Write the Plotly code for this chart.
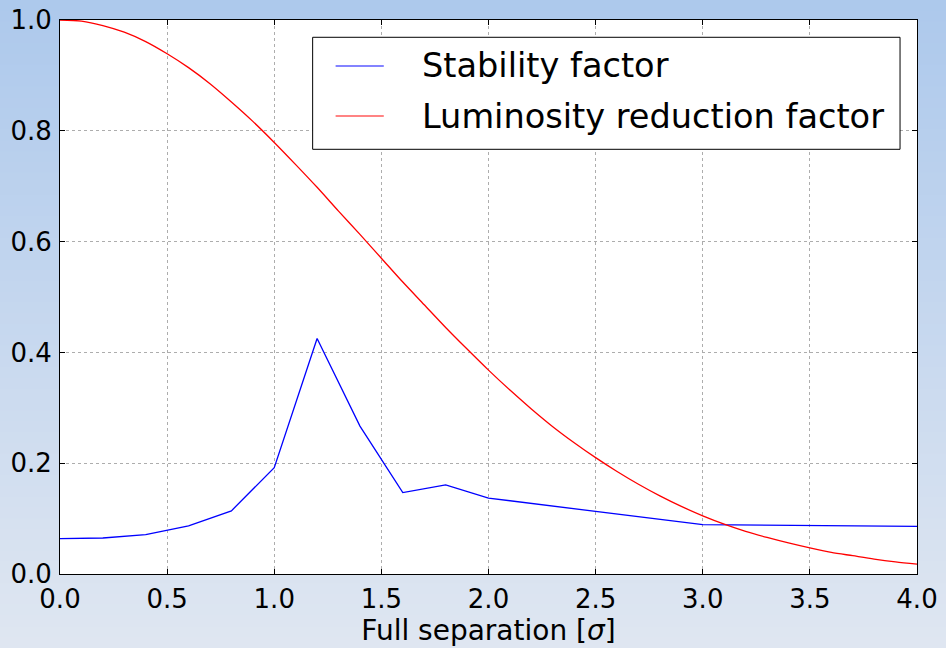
import plotly.graph_objects as go

# Stability factor, sampled at the simulated separations
sep_stab = [0.0, 0.2, 0.4, 0.6, 0.8, 1.0, 1.2, 1.4, 1.6, 1.8, 2.0, 3.0, 4.0]
stability = [0.064, 0.065, 0.071, 0.087, 0.114, 0.192, 0.425, 0.267, 0.147,
             0.161, 0.137, 0.089, 0.086]

# Luminosity reduction factor on a fine separation grid
sep_lumi = [round(0.1 * i, 1) for i in range(41)]
lumi = [1.000, 0.998, 0.990, 0.978, 0.961, 0.939, 0.914, 0.885, 0.852, 0.817,
        0.779, 0.739, 0.698, 0.655, 0.613, 0.570, 0.527, 0.486, 0.445, 0.406,
        0.368, 0.332, 0.298, 0.266, 0.237, 0.210, 0.185, 0.162, 0.141, 0.122,
        0.105, 0.090, 0.077, 0.066, 0.056, 0.047, 0.039, 0.033, 0.027, 0.022,
        0.018]

series_names = ["Stability factor", "Luminosity reduction factor"]
series_colors = ["#0000ff", "#ff0000"]
legend_colors = ["#5a5aff", "#ff5a5a"]

x_ticks = [0.0, 0.5, 1.0, 1.5, 2.0, 2.5, 3.0, 3.5, 4.0]
y_ticks = [0.0, 0.2, 0.4, 0.6, 0.8, 1.0]

W, H = 946, 648
M = dict(l=60, r=29, t=20, b=74)
pw = W - M["l"] - M["r"]
ph = H - M["t"] - M["b"]

FONT = "DejaVu Sans"

fig = go.Figure()
fig.add_trace(go.Scatter(x=sep_stab, y=stability, mode="lines",
                         name=series_names[0],
                         line=dict(color=series_colors[0], width=1.3)))
fig.add_trace(go.Scatter(x=sep_lumi, y=lumi, mode="lines",
                         name=series_names[1],
                         line=dict(color=series_colors[1], width=1.3,
                                   shape="spline", smoothing=0.8)))

# Vertical background gradient covering the whole page, then a white plot area
shapes = []
x_left = -M["l"] / pw
x_right = 1 + M["r"] / pw
y_bottom = -M["b"] / ph
y_top = 1 + M["t"] / ph
top_rgb = (173, 201, 236)
bot_rgb = (223, 230, 241)
n = 60
for i in range(n):
    f = i / (n - 1)
    c = tuple(round(top_rgb[k] + (bot_rgb[k] - top_rgb[k]) * f) for k in range(3))
    y1 = y_top - (y_top - y_bottom) * i / n
    y0 = y_top - (y_top - y_bottom) * (i + 1) / n
    shapes.append(dict(type="rect", xref="paper", yref="paper",
                       x0=x_left, x1=x_right, y0=y0 - 0.002, y1=y1,
                       fillcolor="rgb(%d,%d,%d)" % c, line=dict(width=0),
                       layer="below"))
shapes.append(dict(type="rect", xref="paper", yref="paper", x0=0, x1=1, y0=0, y1=1,
                   fillcolor="white", line=dict(width=0), layer="below"))

# Framed legend box in the upper right of the axes
box = dict(x0=0.2948, x1=0.9802, y0=0.7666, y1=0.9688)
row_y = [0.9170, 0.8267]
shapes.append(dict(type="rect", xref="paper", yref="paper", **box,
                   fillcolor="white", line=dict(color="black", width=1),
                   layer="above"))
annotations = []
for name, col, yy in zip(series_names, legend_colors, row_y):
    shapes.append(dict(type="line", xref="paper", yref="paper",
                       x0=0.3216, x1=0.3778, y0=yy, y1=yy,
                       line=dict(color=col, width=1.5), layer="above"))
    annotations.append(dict(xref="paper", yref="paper", x=0.4200, y=yy,
                            xanchor="left", yanchor="middle", showarrow=False,
                            text=name,
                            font=dict(family=FONT, size=33.6, color="black")))

axis_common = dict(
    showline=True, linecolor="black", linewidth=1, mirror="ticks",
    ticks="inside", ticklen=5, tickcolor="black", tickwidth=1,
    showgrid=True, gridcolor="#adadad", griddash="dot", gridwidth=1,
    zeroline=False, automargin=False,
    tickfont=dict(family=FONT, size=26, color="black"),
)

fig.update_layout(
    width=W, height=H, margin=M,
    paper_bgcolor="rgba(0,0,0,0)", plot_bgcolor="rgba(0,0,0,0)",
    shapes=shapes, annotations=annotations,
    showlegend=False,
    xaxis=dict(range=[0, 4], tickvals=x_ticks,
               ticktext=["%.1f" % v for v in x_ticks],
               title=dict(text="Full separation [<i>σ</i>]",
                          font=dict(family=FONT, size=28, color="black"),
                          standoff=3),
               ticklabelstandoff=2, **axis_common),
    yaxis=dict(range=[0, 1], tickvals=y_ticks,
               ticktext=["%.1f" % v for v in y_ticks],
               ticklabelstandoff=2, **axis_common),
)

fig.write_html("out.html")
